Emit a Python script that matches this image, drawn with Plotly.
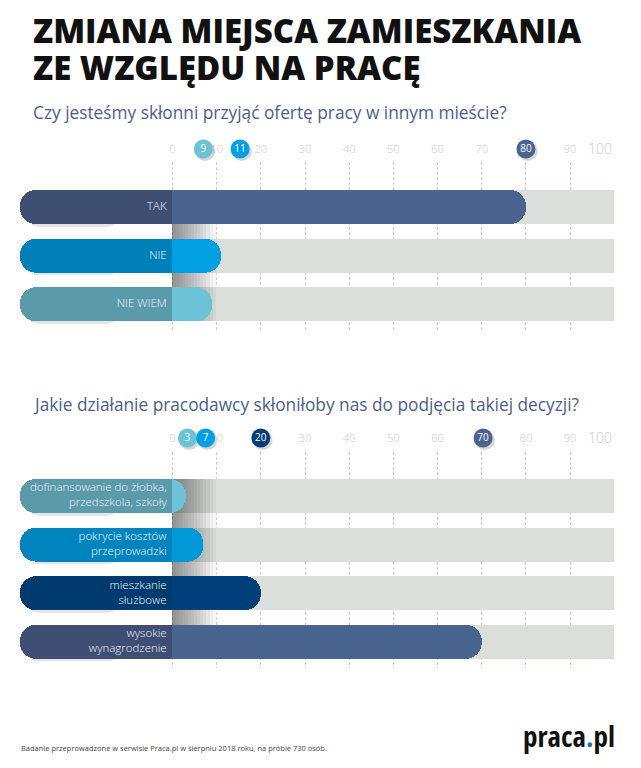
import plotly.graph_objects as go

# ---------------- data ----------------
q1_title = "Czy jesteśmy skłonni przyjąć ofertę pracy w innym mieście?"
q1_categories = ["TAK", "NIE", "NIE WIEM"]
q1_values = [80, 11, 9]

q2_title = "Jakie działanie pracodawcy skłoniłoby nas do podjęcia takiej decyzji?"
q2_categories = ["dofinansowanie do żłobka,<br>przedszkola, szkoły",
                 "pokrycie kosztów<br>przeprowadzki",
                 "mieszkanie<br>służbowe",
                 "wysokie<br>wynagrodzenie"]
q2_values = [3, 7, 20, 70]

tick_values = [0, 10, 20, 30, 40, 50, 60, 70, 80, 90, 100]
tick_labels = ["0", "10", "20", "30", "40", "50", "60", "70", "80", "90", "100"]

main_title = ["ZMIANA MIEJSCA ZAMIESZKANIA", "ZE WZGLĘDU NA PRACĘ"]
footer = "Badanie przeprowadzone w serwisie Praca.pl w sierpniu 2018 roku, na próbie 730 osób."

# ---------------- styles ----------------
W, H = 641, 768
LEFT = -34.5          # left end of the label part (axis units)
BW = 0.70             # bar thickness (row units)
TRACK = "#dadfdc"
FONT = "Open Sans"
TICK_COLOR = "#cbcbcb"

q1_light = ["#4a6490", "#00a0e2", "#6cc2d6"]
q1_dark = ["#3e4f73", "#0080b8", "#5a9aab"]
q1_bubble_nudge = [0, 4.3, -2.0]

q2_light = ["#6cc2d6", "#0098d6", "#00407a", "#4a6490"]
q2_dark = ["#5a9aab", "#0084bd", "#003a6e", "#3e4f73"]
q2_bubble = ["#6cc2d6", "#00a0e2", "#003f78", "#4a6490"]
q2_bubble_nudge = [0.4, 0.5, 0, 0.3]

fig = go.Figure()


def add_chart(cats, vals, light, dark, bubble_cols, nudge, xa, ya, xb, yb):
    n = len(cats)
    ys = list(range(n))
    # grey track
    fig.add_trace(go.Bar(orientation="h", y=ys, x=[100] * n, base=[0] * n,
                         width=BW, marker=dict(color=TRACK, line_width=0),
                         xaxis=xa, yaxis=ya, hoverinfo="skip", showlegend=False))
    # soft shadow cast right of the zero line
    span = (n - 1) + BW
    centre = (n - 1) / 2
    for i in range(1, 15):
        fig.add_trace(go.Bar(orientation="h", y=[centre], x=[0.7 * i], base=[0],
                             width=span, marker=dict(color="rgba(0,0,0,0.036)", line_width=0),
                             xaxis=xa, yaxis=ya, hoverinfo="skip", showlegend=False))
    # drop shadow under the label part
    fig.add_trace(go.Bar(orientation="h", y=[y + 0.09 for y in ys], x=[22] * n, base=[LEFT + 1] * n,
                         width=BW * 0.9, marker=dict(color="rgba(0,0,0,0.10)", line_width=0, cornerradius=15),
                         xaxis=xa, yaxis=ya, hoverinfo="skip", showlegend=False))
    # value pill (light)
    fig.add_trace(go.Bar(orientation="h", y=ys, x=[v - LEFT for v in vals], base=[LEFT] * n,
                         width=BW, marker=dict(color=light, line_width=0, cornerradius=16),
                         xaxis=xa, yaxis=ya, hoverinfo="skip", showlegend=False))
    # label part (dark) - rounded left end, square at zero
    fig.add_trace(go.Bar(orientation="h", y=ys, x=[-6 - LEFT] * n, base=[LEFT] * n,
                         width=BW, marker=dict(color=dark, line_width=0, cornerradius=16),
                         xaxis=xa, yaxis=ya, hoverinfo="skip", showlegend=False))
    fig.add_trace(go.Bar(orientation="h", y=ys, x=[10] * n, base=[-10] * n,
                         width=BW, marker=dict(color=dark, line_width=0),
                         xaxis=xa, yaxis=ya, hoverinfo="skip", showlegend=False))
    # category labels
    fig.add_trace(go.Scatter(x=[-1.3] * n, y=ys, mode="text", text=cats,
                             textposition="middle left",
                             textfont=dict(family=FONT, size=11.5, color="#eef3f8", weight=300),
                             xaxis=xa, yaxis=ya, hoverinfo="skip", showlegend=False, cliponaxis=False))
    # value bubbles (own thin subplot band above the chart)
    bx = [v + d for v, d in zip(vals, nudge)]
    by = [0] * n
    fig.add_trace(go.Scatter(x=[b + 0.4 for b in bx], y=[-0.15] * n, mode="markers",
                             marker=dict(size=20, color="rgba(0,0,0,0.16)"),
                             xaxis=xb, yaxis=yb, hoverinfo="skip", showlegend=False, cliponaxis=False))
    fig.add_trace(go.Scatter(x=bx, y=by, mode="markers+text", text=[str(v) for v in vals],
                             textposition="middle center",
                             marker=dict(size=19, color=bubble_cols, line_width=0),
                             textfont=dict(family=FONT, size=10, color="white"),
                             xaxis=xb, yaxis=yb, hoverinfo="skip", showlegend=False, cliponaxis=False))


add_chart(q1_categories, q1_values, q1_light, q1_dark, q1_light, q1_bubble_nudge, "x", "y", "x3", "y3")
add_chart(q2_categories, q2_values, q2_light, q2_dark, q2_bubble, q2_bubble_nudge, "x2", "y2", "x4", "y4")

# the last label ("100") is drawn right-aligned to its grid line as an annotation below
axis_ticktext = tick_labels[:-1] + [""]
xdom = [20 / W, 614.3 / W]
xcommon = dict(range=[LEFT, 100], domain=xdom, side="top", tickvals=tick_values,
               ticktext=axis_ticktext,
               ticks="", showline=False, zeroline=False, showgrid=True, gridcolor="#cdcdcd",
               griddash="3px,2px", gridwidth=1, layer="below traces",
               tickfont=dict(family=FONT, size=11, color=TICK_COLOR, weight=300), fixedrange=True)
xband = dict(range=[LEFT, 100], domain=xdom, visible=False, fixedrange=True)

fig.update_layout(
    width=W, height=H, autosize=False, margin=dict(l=0, r=0, t=0, b=0),
    paper_bgcolor="white", plot_bgcolor="rgba(0,0,0,0)",
    barmode="overlay", bargap=0, showlegend=False,
    xaxis=dict(**xcommon, anchor="y", ticklabelstandoff=6),
    yaxis=dict(domain=[1 - 330 / H, 1 - 162 / H], range=[2.528, -0.925], visible=False, fixedrange=True),
    xaxis2=dict(**xcommon, anchor="y2", ticklabelstandoff=7),
    yaxis2=dict(domain=[1 - 668 / H, 1 - 452 / H], range=[3.539, -0.906], visible=False, fixedrange=True),
    xaxis3=dict(**xband, anchor="y3"),
    yaxis3=dict(domain=[1 - 162 / H, 1 - 136 / H], range=[-1, 1], visible=False, fixedrange=True),
    xaxis4=dict(**xband, anchor="y4"),
    yaxis4=dict(domain=[1 - 451 / H, 1 - 425 / H], range=[-1, 1], visible=False, fixedrange=True),
)

ann = []
for txt, py in zip(main_title, [30, 68]):
    ann.append(dict(text=txt, x=31 / W, y=1 - py / H, xref="paper", yref="paper", xanchor="left",
                    yanchor="middle", showarrow=False,
                    font=dict(family=FONT, size=33, color="#111111", weight=800)))
for txt, py in zip([q1_title, q2_title], [113, 404]):
    ann.append(dict(text=txt, x=31 / W, y=1 - py / H, xref="paper", yref="paper", xanchor="left",
                    yanchor="middle", showarrow=False,
                    font=dict(family=FONT, size=17.3, color="#4b5f8c")))
for xr, py in zip(["x", "x2"], [148, 437]):
    ann.append(dict(text=tick_labels[-1], x=tick_values[-1], xref=xr, y=1 - py / H, yref="paper",
                    xanchor="right", yanchor="middle", showarrow=False,
                    font=dict(family=FONT, size=14, color=TICK_COLOR, weight=300)))
ann.append(dict(text=footer, x=19 / W, y=1 - 748 / H, xref="paper", yref="paper", xanchor="left",
                yanchor="middle", showarrow=False,
                font=dict(family=FONT, size=7.5, color="#444444")))
logo = ("<span style='font-stretch:75%'>praca</span>"
        "<span style='font-stretch:75%;color:#1d6fc4'>.</span>"
        "<span style='font-stretch:75%'>pl</span>")
ann.append(dict(text=logo, x=617 / W, y=1 - 735 / H,
                xref="paper", yref="paper", xanchor="right", yanchor="middle", showarrow=False,
                font=dict(family=FONT, size=29, color="#111111", weight=700)))
fig.update_layout(annotations=ann)

post = ("document.documentElement.style.overflow='hidden';"
        "document.body.style.overflow='hidden';"
        "document.body.style.margin='0';")
fig.write_html("out.html", config={"displayModeBar": False, "staticPlot": True},
               post_script=post)
